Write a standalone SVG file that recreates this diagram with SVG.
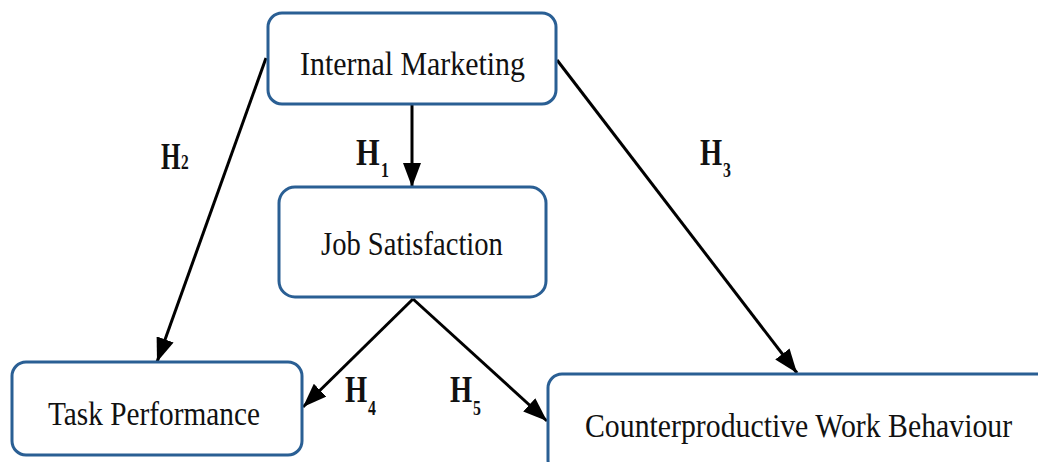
<svg xmlns="http://www.w3.org/2000/svg" width="1038" height="462" viewBox="0 0 1038 462">
<style>
.box{fill:#fff;stroke:#2a5f94;stroke-width:3}
.t{font-family:"Liberation Serif","DejaVu Serif",serif;font-size:34px;fill:#111}
.h{font-family:"Liberation Serif","DejaVu Serif",serif;font-size:38px;font-weight:bold;fill:#111}
.s{font-family:"Liberation Serif","DejaVu Serif",serif;font-size:22px;font-weight:bold;fill:#111}
.c{stroke:#000;stroke-width:3;fill:none;marker-end:url(#ah)}
</style>
<defs>
<marker id="ah" markerUnits="userSpaceOnUse" markerWidth="24" markerHeight="18" viewBox="0 0 24 18" refX="24" refY="9" orient="auto">
<path d="M0,0 L24,9 L0,18 Z" fill="#000"/>
</marker>
</defs>
<rect width="1038" height="462" fill="#fff"/>
<g id="connectors">
<line class="c" x1="412" y1="104" x2="412" y2="187"/>
<line class="c" x1="266" y1="58" x2="157" y2="362"/>
<line class="c" x1="557" y1="60" x2="797" y2="373"/>
<line class="c" x1="413" y1="299" x2="303" y2="407"/>
<line class="c" x1="413" y1="299" x2="547" y2="421"/>
</g>
<g id="internal-marketing">
<rect class="box" x="268" y="13" width="288" height="91" rx="14"/>
<text class="t" transform="translate(300,75) scale(0.879,1)" textLength="256" lengthAdjust="spacingAndGlyphs">Internal Marketing</text>
</g>
<g id="job-satisfaction">
<rect class="box" x="279" y="187" width="267" height="110" rx="16"/>
<text class="t" transform="translate(321,255) scale(0.842,1)" textLength="216" lengthAdjust="spacingAndGlyphs">Job Satisfaction</text>
</g>
<g id="task-performance">
<rect class="box" x="12" y="362" width="290" height="93" rx="14"/>
<text class="t" transform="translate(48,425) scale(0.855,1)" textLength="248" lengthAdjust="spacingAndGlyphs">Task Performance</text>
</g>
<g id="cwb">
<rect class="box" x="548" y="374" width="510" height="100" rx="14"/>
<text class="t" transform="translate(585,437) scale(0.87,1)" textLength="491" lengthAdjust="spacingAndGlyphs">Counterproductive Work Behaviour</text>
</g>
<g id="labels">
<text class="h" transform="translate(161,169) scale(0.66,1)">H</text>
<text class="s" transform="translate(181,169) scale(0.7,1)" font-size="26">2</text>
<text class="h" transform="translate(356,165) scale(0.8,1)">H</text>
<text class="s" transform="translate(381,177) scale(0.72,1)">1</text>
<text class="h" transform="translate(700,165) scale(0.75,1)">H</text>
<text class="s" transform="translate(723,177) scale(0.72,1)">3</text>
<text class="h" transform="translate(345,402) scale(0.75,1)">H</text>
<text class="s" transform="translate(368,415) scale(0.72,1)">4</text>
<text class="h" transform="translate(450,402) scale(0.75,1)">H</text>
<text class="s" transform="translate(473,415) scale(0.72,1)">5</text>
</g>
</svg>
